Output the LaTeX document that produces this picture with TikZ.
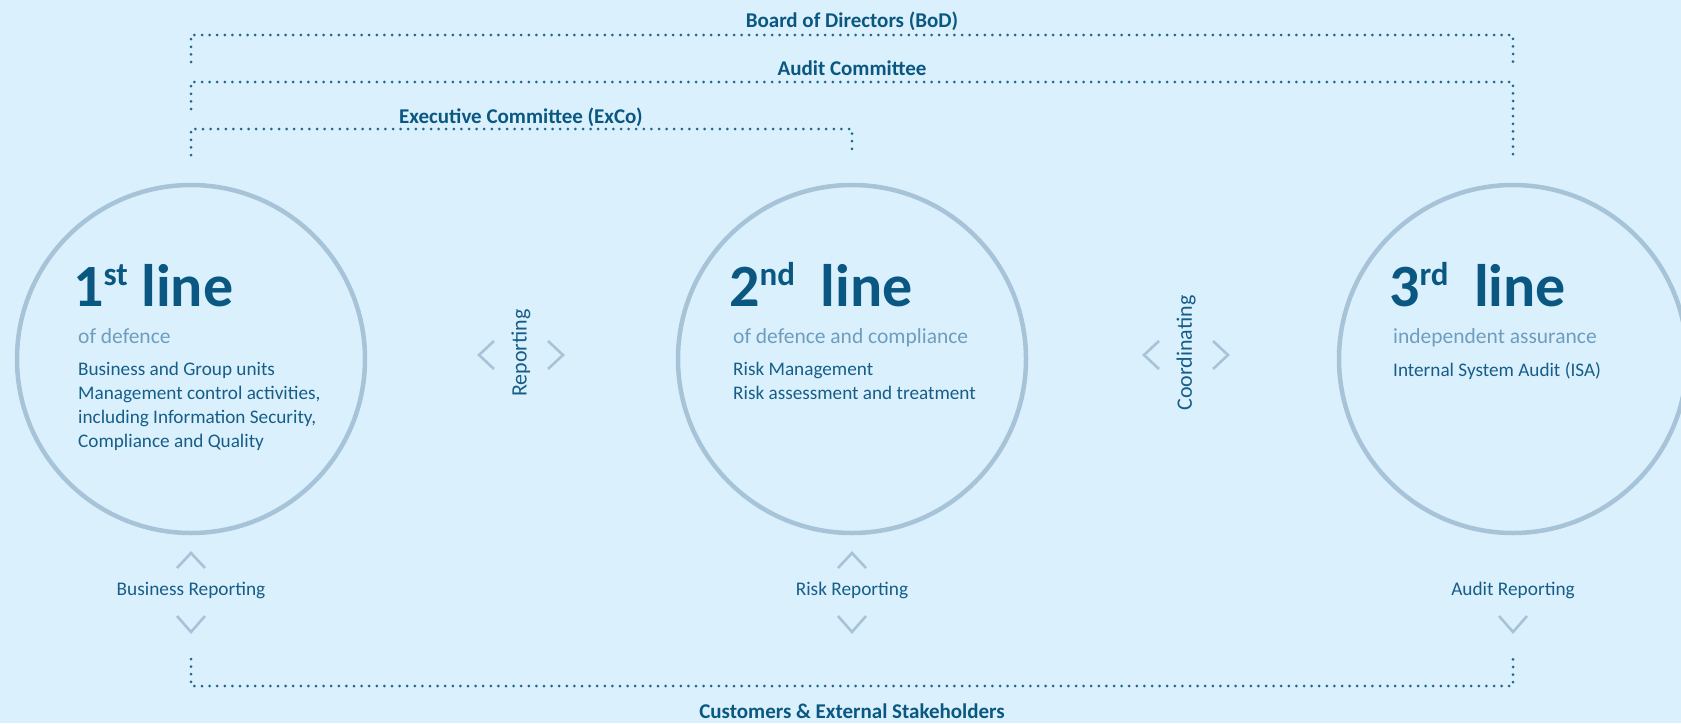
\documentclass[tikz,border=0pt]{standalone}
\usepackage{fontspec}
\setmainfont{Carlito}
\usetikzlibrary{positioning}

\definecolor{bgBlue}{HTML}{DBF0FD}
\definecolor{deepBlue}{HTML}{0A5781}
\definecolor{textBlue}{HTML}{165E88}
\definecolor{paleText}{HTML}{6E9DBE}
\definecolor{ringGrey}{HTML}{A7C3D7}
\definecolor{dotBlue}{HTML}{1F678B}

\tikzset{
  ring/.style={circle, draw=ringGrey, line width=4.5pt, minimum size=348pt, inner sep=0pt},
  dots/.style={dotBlue, line width=3pt, line cap=round, dash pattern=on 0pt off 7.6pt},
  chev/.style={ringGrey, line width=2.6pt},
  board/.style={anchor=base, inner sep=0pt, font=\bfseries\fontsize{21}{24}\selectfont, text=deepBlue},
  heading/.style={anchor=base west, inner sep=0pt, font=\bfseries\fontsize{60}{62}\selectfont, text=deepBlue},
  subline/.style={anchor=base west, inner sep=0pt, font=\fontsize{21.5}{24}\selectfont, text=paleText},
  body/.style={anchor=north west, inner sep=0pt, align=left, font=\fontsize{19.2}{24}\selectfont, text=textBlue},
  flow/.style={inner sep=0pt, font=\fontsize{19.3}{22}\selectfont, text=textBlue},
  side/.style={flow, rotate=90, font=\fontsize{22}{24}\selectfont},
}

\newcommand{\ord}[1]{\raisebox{21pt}{\fontsize{33}{33}\selectfont #1}}

\begin{document}
\begin{tikzpicture}[x=1pt, y=-1pt]
	\fill[bgBlue] (0,0) rectangle (1681,723);
	\useasboundingbox (0,0) rectangle (1681,723);

	% governance brackets
	\node[board] (bod) at (852,27) {Board of Directors (BoD)};
	\node[board] (audit) at (852,75) {Audit Committee};
	\node[board] (exco) at (521,123) {Executive Committee (ExCo)};

	\coordinate (bodL) at (191,62);
	\coordinate (bodR) at (1513,62);
	\coordinate (auditL) at (191,109);
	\coordinate (auditR) at (1513,155);
	\coordinate (excoL) at (191,155);
	\coordinate (excoR) at (852,155);

	\draw[dots] (bodL) |- (1513,35) -- (bodR);
	\draw[dots] (auditL) |- (1513,82) -- (auditR);
	\draw[dots] (excoL) |- (852,129) -- (excoR);

	% the three lines
	\node[ring] (first) at (191,359) {};
	\node[ring] (second) at (852,359) {};
	\node[ring] (third) at (1513,359) {};

	\node[heading] (h1) at (73,306) {1\ord{st} line};
	\node[subline] (s1) at (78,343) {of defence};
	\node[body] (b1) at (78,362) {Business and Group units\\Management control activities,\\including Information Security,\\Compliance and Quality};

	\node[heading] (h2) at (729,306) {2\ord{nd}\hspace{12pt} line};
	\node[subline] (s2) at (733,343) {of defence and compliance};
	\node[body] (b2) at (733,362) {Risk Management\\Risk assessment and treatment};

	\node[heading] (h3) at (1389,306) {3\ord{rd}\hspace{12pt} line};
	\node[subline] (s3) at (1393,343) {independent assurance};
	\node[body] (b3) at (1393,362) {Internal System Audit (ISA)};

	% side arrows between circles
	\foreach \cx/\lbl in {521/Reporting, 1186/Coordinating} {
		\node[side] at (\cx,353) {\lbl};
		\draw[chev] (\cx-27,341) -- (\cx-42,355) -- (\cx-27,369);
		\draw[chev] (\cx+27,341) -- (\cx+42,355) -- (\cx+27,369);
	}

	% reporting to stakeholders
	\node[flow] (rep1) at (191,590) {Business Reporting};
	\node[flow] (rep2) at (852,590) {Risk Reporting};
	\node[flow] (rep3) at (1513,590) {Audit Reporting};

	\foreach \cx in {191,852} {
		\draw[chev] (\cx-14,568) -- (\cx,553) -- (\cx+14,568);
	}
	\foreach \cx in {191,852,1513} {
		\draw[chev] (\cx-14,616) -- (\cx,632) -- (\cx+14,616);
	}

	\coordinate (custL) at (191,659);
	\coordinate (custR) at (1513,659);
	\draw[dots] (custL) |- (1513,686) -- (custR);
	\node[board] (cust) at (852,718) {Customers \& External Stakeholders};
\end{tikzpicture}
\end{document}
